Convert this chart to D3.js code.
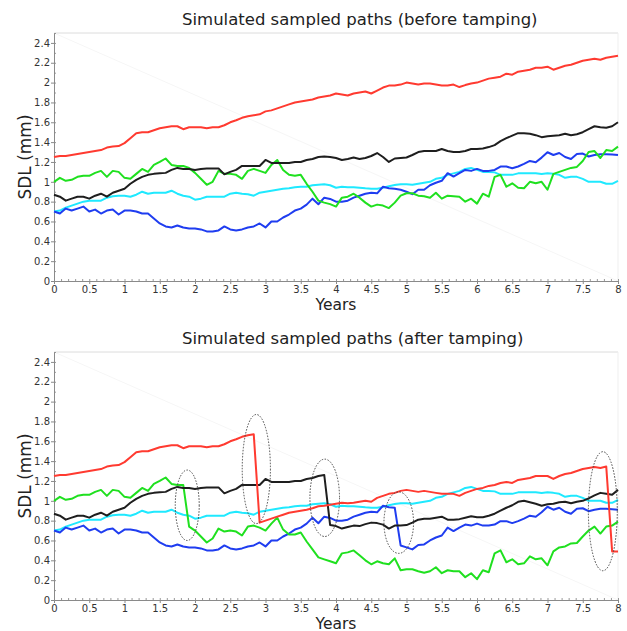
<!DOCTYPE html>
<html>
<head>
<meta charset="utf-8">
<script src="https://cdn.jsdelivr.net/npm/d3@7"></script>
<style>
  body { margin: 0; background: #fff; }
  svg text { font-family: "DejaVu Sans", Verdana, sans-serif; }
</style>
</head>
<body>
<script>
const width = 627,
  height = 631;

// sample index -> years (one sample per month, 0..8 years)
const samplesPerYear = 12;

// tick labels
const yTicks = [0, 0.2, 0.4, 0.6, 0.8, 1, 1.2, 1.4, 1.6, 1.8, 2, 2.2, 2.4];
const xTicks = [0, 0.5, 1, 1.5, 2, 2.5, 3, 3.5, 4, 4.5, 5, 5.5, 6, 6.5, 7, 7.5, 8];

// ---- before tamping ----
const beforeRed = [
  1.25, 1.26, 1.26, 1.27, 1.28, 1.29, 1.30, 1.31, 1.32, 1.345,
  1.355, 1.36, 1.39, 1.44, 1.49, 1.50, 1.50, 1.52, 1.54, 1.55,
  1.56, 1.56, 1.53, 1.55, 1.55, 1.55, 1.54, 1.55, 1.55, 1.57,
  1.60, 1.62, 1.645, 1.66, 1.67, 1.68, 1.71, 1.72, 1.74, 1.76,
  1.78, 1.80, 1.81, 1.82, 1.83, 1.85, 1.86, 1.87, 1.89, 1.88,
  1.87, 1.89, 1.90, 1.91, 1.89, 1.92, 1.95, 1.97, 1.97, 1.98,
  2.00, 1.99, 1.98, 1.99, 1.99, 1.98, 1.97, 1.97, 1.98, 1.955,
  1.975, 1.99, 2.00, 2.02, 2.04, 2.05, 2.06, 2.09, 2.08, 2.11,
  2.12, 2.13, 2.15, 2.15, 2.16, 2.13, 2.15, 2.17, 2.18, 2.20,
  2.22, 2.23, 2.24, 2.23, 2.25, 2.26, 2.27
];
const beforeBlack = [
  0.87, 0.85, 0.81, 0.83, 0.85, 0.85, 0.83, 0.86, 0.88, 0.85,
  0.89, 0.91, 0.93, 0.98, 1.02, 1.05, 1.07, 1.08, 1.085, 1.09,
  1.12, 1.14, 1.13, 1.13, 1.12, 1.13, 1.135, 1.135, 1.135, 1.075,
  1.10, 1.12, 1.16, 1.16, 1.16, 1.16, 1.22, 1.19, 1.19, 1.19,
  1.19, 1.20, 1.20, 1.22, 1.23, 1.25, 1.255, 1.25, 1.24, 1.22,
  1.23, 1.245, 1.23, 1.24, 1.26, 1.29, 1.25, 1.20, 1.235, 1.24,
  1.245, 1.27, 1.30, 1.31, 1.31, 1.31, 1.33, 1.31, 1.30, 1.30,
  1.31, 1.33, 1.33, 1.335, 1.35, 1.37, 1.41, 1.44, 1.465, 1.49,
  1.49, 1.485, 1.47, 1.45, 1.46, 1.465, 1.47, 1.485, 1.47, 1.48,
  1.50, 1.53, 1.56, 1.55, 1.545, 1.56, 1.60
];
const beforeGreen = [
  1.00, 1.04, 1.01, 1.02, 1.05, 1.06, 1.06, 1.09, 1.11, 1.05,
  1.11, 1.10, 1.04, 1.03, 1.08, 1.13, 1.10, 1.17, 1.20, 1.235,
  1.17, 1.16, 1.16, 1.14, 1.09, 1.03, 0.97, 1.00, 1.11, 1.08,
  1.08, 1.07, 1.03, 1.11, 1.13, 1.11, 1.09, 1.17, 1.22, 1.12,
  1.07, 1.06, 1.07, 0.98, 0.90, 0.81, 0.79, 0.775, 0.75, 0.84,
  0.85, 0.88, 0.84, 0.79, 0.75, 0.77, 0.76, 0.735, 0.79, 0.86,
  0.885, 0.885, 0.86, 0.855, 0.84, 0.89, 0.83, 0.86, 0.855, 0.85,
  0.80, 0.83, 0.78, 0.88, 0.85, 1.05, 1.07, 0.95, 0.985, 0.94,
  0.935, 1.00, 0.985, 1.00, 0.92, 1.08, 1.10, 1.12, 1.14, 1.15,
  1.21, 1.30, 1.31, 1.24, 1.32, 1.31, 1.355
];
const beforeCyan = [
  0.70, 0.71, 0.74, 0.76, 0.78, 0.80, 0.81, 0.81, 0.81, 0.84,
  0.855, 0.86, 0.86, 0.85, 0.87, 0.90, 0.88, 0.89, 0.89, 0.89,
  0.91, 0.88, 0.86, 0.85, 0.82, 0.83, 0.85, 0.85, 0.85, 0.85,
  0.88, 0.89, 0.88, 0.875, 0.86, 0.89, 0.90, 0.91, 0.92, 0.93,
  0.935, 0.945, 0.95, 0.95, 0.965, 0.97, 0.975, 0.965, 0.94, 0.95,
  0.945, 0.944, 0.94, 0.934, 0.93, 0.93, 0.94, 0.955, 0.968, 0.975,
  0.975, 0.97, 0.98, 0.99, 1.00, 1.03, 1.04, 1.07, 1.085, 1.10,
  1.13, 1.14, 1.12, 1.10, 1.10, 1.095, 1.07, 1.07, 1.07, 1.085,
  1.085, 1.085, 1.085, 1.078, 1.085, 1.08, 1.07, 1.04, 1.05, 1.05,
  1.03, 1.00, 1.00, 1.00, 0.98, 0.98, 1.01
];
const beforeBlue = [
  0.70, 0.68, 0.73, 0.71, 0.73, 0.75, 0.70, 0.72, 0.68, 0.71,
  0.72, 0.67, 0.71, 0.71, 0.70, 0.68, 0.68, 0.63, 0.58, 0.55,
  0.54, 0.56, 0.54, 0.53, 0.53, 0.52, 0.50, 0.50, 0.51, 0.55,
  0.52, 0.51, 0.52, 0.54, 0.55, 0.58, 0.54, 0.60, 0.60, 0.64,
  0.67, 0.71, 0.73, 0.77, 0.83, 0.774, 0.84, 0.827, 0.80, 0.80,
  0.81, 0.84, 0.86, 0.88, 0.89, 0.884, 0.95, 0.935, 0.93, 0.92,
  0.90, 0.875, 0.92, 0.92, 0.965, 0.99, 1.01, 1.087, 1.053, 1.087,
  1.12, 1.11, 1.13, 1.11, 1.11, 1.12, 1.154, 1.154, 1.136, 1.154,
  1.18, 1.21, 1.197, 1.244, 1.298, 1.27, 1.29, 1.25, 1.23, 1.28,
  1.285, 1.255, 1.27, 1.278, 1.278, 1.275, 1.27
];

// ---- after tamping ----
const afterRed = [
  1.25, 1.26, 1.26, 1.27, 1.28, 1.29, 1.30, 1.31, 1.32, 1.345,
  1.355, 1.36, 1.39, 1.44, 1.49, 1.50, 1.50, 1.52, 1.54, 1.55,
  1.56, 1.56, 1.53, 1.55, 1.55, 1.55, 1.54, 1.55, 1.55, 1.57,
  1.60, 1.62, 1.645, 1.66, 1.67, 0.78, 0.80, 0.82, 0.84, 0.86,
  0.88, 0.89, 0.90, 0.91, 0.925, 0.945, 0.95, 0.96, 0.97, 0.98,
  0.975, 0.98, 0.99, 1.00, 0.99, 1.03, 1.05, 1.07, 1.08, 1.10,
  1.11, 1.10, 1.09, 1.10, 1.09, 1.08, 1.07, 1.07, 1.07, 1.05,
  1.08, 1.10, 1.12, 1.13, 1.15, 1.16, 1.18, 1.19, 1.18, 1.21,
  1.22, 1.23, 1.25, 1.25, 1.25, 1.22, 1.25, 1.27, 1.28, 1.30,
  1.32, 1.33, 1.34, 1.33, 1.345, 0.49, 0.49
];
const afterBlack = [
  0.87, 0.85, 0.81, 0.83, 0.85, 0.85, 0.83, 0.86, 0.88, 0.85,
  0.89, 0.91, 0.93, 0.98, 1.02, 1.05, 1.07, 1.08, 1.085, 1.09,
  1.12, 1.14, 1.13, 1.13, 1.12, 1.13, 1.135, 1.135, 1.135, 1.075,
  1.10, 1.12, 1.16, 1.16, 1.16, 1.16, 1.22, 1.19, 1.19, 1.19,
  1.19, 1.20, 1.20, 1.22, 1.23, 1.25, 1.26, 0.755, 0.745, 0.72,
  0.735, 0.75, 0.745, 0.765, 0.78, 0.775, 0.76, 0.72, 0.75, 0.75,
  0.755, 0.78, 0.81, 0.82, 0.82, 0.83, 0.84, 0.81, 0.81, 0.815,
  0.83, 0.845, 0.835, 0.835, 0.85, 0.87, 0.90, 0.93, 0.955, 0.99,
  1.00, 0.985, 0.97, 0.95, 0.965, 0.97, 0.985, 0.99, 0.975, 0.99,
  1.00, 1.025, 1.055, 1.08, 1.07, 1.06, 1.11
];
const afterGreen = [
  1.00, 1.04, 1.01, 1.02, 1.05, 1.06, 1.06, 1.09, 1.11, 1.05,
  1.11, 1.10, 1.04, 1.03, 1.08, 1.13, 1.10, 1.17, 1.20, 1.235,
  1.17, 1.16, 1.16, 0.74, 0.70, 0.64, 0.58, 0.62, 0.72, 0.69,
  0.70, 0.69, 0.65, 0.74, 0.75, 0.73, 0.70, 0.77, 0.83, 0.71,
  0.66, 0.66, 0.68, 0.59, 0.51, 0.43, 0.41, 0.39, 0.37, 0.47,
  0.48, 0.50, 0.45, 0.40, 0.36, 0.39, 0.37, 0.36, 0.42, 0.30,
  0.31, 0.31, 0.29, 0.275, 0.29, 0.33, 0.27, 0.30, 0.29, 0.29,
  0.23, 0.27, 0.21, 0.30, 0.28, 0.47, 0.50, 0.38, 0.41, 0.36,
  0.37, 0.44, 0.41, 0.42, 0.35, 0.49, 0.53, 0.54, 0.57, 0.575,
  0.64, 0.70, 0.74, 0.67, 0.74, 0.75, 0.79
];
// the cyan path was not tamped
const afterCyan = beforeCyan;
const afterBlue = [
  0.70, 0.68, 0.73, 0.71, 0.73, 0.75, 0.70, 0.72, 0.68, 0.71,
  0.72, 0.67, 0.71, 0.71, 0.70, 0.68, 0.68, 0.63, 0.58, 0.55,
  0.54, 0.56, 0.54, 0.53, 0.53, 0.52, 0.50, 0.50, 0.51, 0.55,
  0.52, 0.51, 0.52, 0.54, 0.55, 0.58, 0.54, 0.60, 0.60, 0.64,
  0.67, 0.71, 0.73, 0.77, 0.83, 0.774, 0.84, 0.827, 0.80, 0.80,
  0.81, 0.84, 0.86, 0.88, 0.89, 0.884, 0.95, 0.935, 0.93, 0.55,
  0.53, 0.51, 0.555, 0.56, 0.60, 0.63, 0.65, 0.73, 0.695, 0.73,
  0.76, 0.75, 0.77, 0.75, 0.75, 0.76, 0.795, 0.795, 0.775, 0.795,
  0.82, 0.85, 0.84, 0.885, 0.94, 0.91, 0.93, 0.89, 0.87, 0.92,
  0.925, 0.895, 0.91, 0.92, 0.92, 0.915, 0.91
];

// tamping events (dotted ellipses), in years / mm
const tampYear = [1.89, 2.87, 3.84, 4.89, 7.785];
const tampSdl = [0.955, 1.32, 1.03, 0.78, 0.895];
const tampHalfYears = [0.17, 0.2, 0.21, 0.21, 0.205];
const tampHalfSdl = [0.355, 0.55, 0.39, 0.31, 0.6];

const colors = {
  cyan: "#1fe9ff",
  blue: "#1f3df0",
  green: "#1fe01f",
  black: "#1e1e1e",
  red: "#ff3a30"
};

const plotLeft = 54,
  plotRight = 618,
  plotHeight = 248;

const fmt = d3.format("~g");

const svg = d3
  .select("body")
  .append("svg")
  .attr("width", width)
  .attr("height", height);

const xScale = d3
  .scaleLinear()
  .domain([0, 8])
  .range([plotLeft, plotRight]);

function drawPanel(top, title, series, withTamping) {
  const bottom = top + plotHeight;
  const yScale = d3
    .scaleLinear()
    .domain([0, 2.5])
    .range([bottom, top]);

  const g = svg.append("g");

  // light frame on top / right
  g.append("line")
    .attr("x1", plotLeft).attr("x2", plotRight)
    .attr("y1", top).attr("y2", top)
    .attr("stroke", "#dcdcdc");
  g.append("line")
    .attr("x1", plotRight).attr("x2", plotRight)
    .attr("y1", top).attr("y2", bottom)
    .attr("stroke", "#efefef");
  // faint diagonal seen in the original
  g.append("line")
    .attr("x1", plotLeft).attr("y1", top)
    .attr("x2", plotRight).attr("y2", bottom)
    .attr("stroke", "#f6f6f6");

  // minor ticks
  g.append("g")
    .attr("transform", `translate(${plotLeft},0)`)
    .call(d3.axisLeft(yScale).tickValues(d3.range(0, 2.51, 0.1)).tickSize(-2).tickSizeOuter(0).tickFormat(""))
    .call(a => a.select(".domain").remove())
    .call(a => a.selectAll("line").attr("stroke", "#999"));
  g.append("g")
    .attr("transform", `translate(0,${bottom})`)
    .call(d3.axisBottom(xScale).tickValues(d3.range(0, 8.01, 0.1)).tickSize(-2).tickSizeOuter(0).tickFormat(""))
    .call(a => a.select(".domain").remove())
    .call(a => a.selectAll("line").attr("stroke", "#999"));

  // major axes
  const yAxis = g
    .append("g")
    .attr("transform", `translate(${plotLeft},0)`)
    .call(d3.axisLeft(yScale).tickValues(yTicks).tickSize(3).tickSizeOuter(0).tickPadding(1).tickFormat(fmt));
  const xAxis = g
    .append("g")
    .attr("transform", `translate(0,${bottom})`)
    .call(d3.axisBottom(xScale).tickValues(xTicks).tickSize(3).tickSizeOuter(0).tickPadding(2).tickFormat(fmt));
  [yAxis, xAxis].forEach(a => {
    a.select(".domain").attr("stroke", "#8a8a8a");
    a.selectAll(".tick line").attr("stroke", "#8a8a8a");
    a.selectAll("text")
      .attr("fill", "#333")
      .style("font-size", "10px")
      .style("font-family", '"DejaVu Sans", Verdana, sans-serif');
  });

  // paths
  const line = d3
    .line()
    .x((d, i) => xScale(i / samplesPerYear))
    .y(d => yScale(d));

  g.append("g")
    .selectAll("path")
    .data(series)
    .enter()
    .append("path")
    .attr("d", d => line(d.values))
    .attr("fill", "none")
    .attr("stroke", d => colors[d.color])
    .attr("stroke-width", 2)
    .attr("stroke-linejoin", "round");

  if (withTamping) {
    g.append("g")
      .selectAll("ellipse")
      .data(tampYear)
      .enter()
      .append("ellipse")
      .attr("cx", d => xScale(d))
      .attr("cy", (d, i) => yScale(tampSdl[i]))
      .attr("rx", (d, i) => xScale(tampHalfYears[i]) - xScale(0))
      .attr("ry", (d, i) => yScale(0) - yScale(tampHalfSdl[i]))
      .attr("fill", "none")
      .attr("stroke", "#444")
      .attr("stroke-width", 1)
      .attr("stroke-dasharray", "1.5,1.5");
  }

  // labels
  g.append("text")
    .attr("x", 182)
    .attr("y", top - 8)
    .attr("fill", "#222")
    .style("font-size", "16.5px")
    .text(title);

  g.append("text")
    .attr("x", (plotLeft + plotRight) / 2)
    .attr("y", bottom + 28.5)
    .attr("text-anchor", "middle")
    .attr("fill", "#222")
    .style("font-size", "15.5px")
    .text("Years");

  g.append("text")
    .attr("transform", "rotate(-90)")
    .attr("x", -(top + bottom) / 2)
    .attr("y", 31)
    .attr("text-anchor", "middle")
    .attr("fill", "#222")
    .style("font-size", "17px")
    .text("SDL (mm)");
}

drawPanel(33, "Simulated sampled paths (before tamping)", [
  { color: "cyan", values: beforeCyan },
  { color: "blue", values: beforeBlue },
  { color: "green", values: beforeGreen },
  { color: "black", values: beforeBlack },
  { color: "red", values: beforeRed }
], false);

drawPanel(352, "Simulated sampled paths (after tamping)", [
  { color: "cyan", values: afterCyan },
  { color: "blue", values: afterBlue },
  { color: "green", values: afterGreen },
  { color: "black", values: afterBlack },
  { color: "red", values: afterRed }
], true);
</script>
</body>
</html>
